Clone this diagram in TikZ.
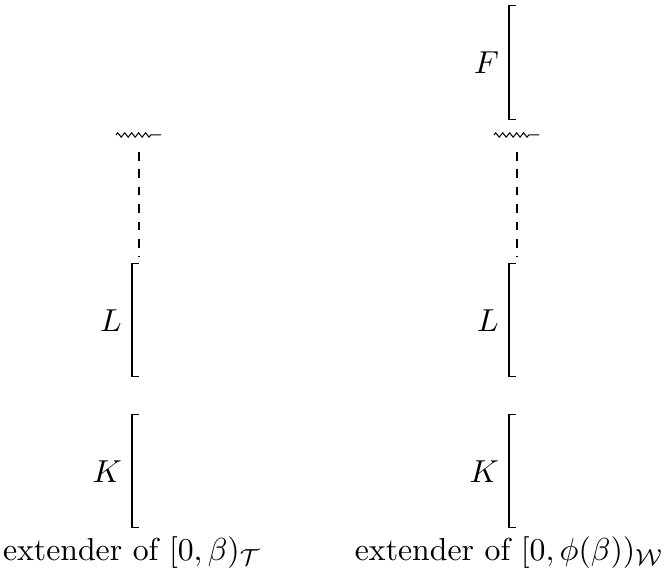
\documentclass[tikz,border=0pt]{standalone}
\usetikzlibrary{decorations.pathmorphing,calc}
\begin{document}
\begin{tikzpicture}[x=0.3448pt,y=-0.3448pt,
  every node/.style={font=\fontsize{10.95}{13.6}\selectfont},
  brk/.style={line width=0.35pt},
  squig/.style={line width=0.35pt,decorate,decoration={zigzag,segment length=2.4pt,amplitude=0.75pt,post length=3.1pt}},
  dsh/.style={line width=0.35pt,dashed},
  lbl/.style={left,inner sep=3.3pt},
  capt/.style={below,inner sep=2pt}]
\useasboundingbox (0,0) rectangle (668,576);
% left column
\coordinate (Lt) at (132,264);
\coordinate (Lb) at (132,377);
\coordinate (Kt) at (132,415);
\coordinate (Kb) at (132,528);
\coordinate (sqLa) at (116,135);
\coordinate (sqLb) at (161,135);
\coordinate (dLa) at (139,152);
\coordinate (dLb) at (139,257);
\draw[brk] ([xshift=2.4pt]Lt) -- (Lt) -- (Lb) -- ([xshift=2.4pt]Lb);
\draw[brk] ([xshift=2.4pt]Kt) -- (Kt) -- (Kb) -- ([xshift=2.4pt]Kb);
\node[lbl] (labL1) at ($(Lt)!0.5!(Lb)$) {$L$};
\node[lbl] (labK1) at ($(Kt)!0.5!(Kb)$) {$K$};
\draw[squig] (sqLa) -- (sqLb);
\draw[dsh] (dLa) -- (dLb);
\node[capt] (cap1) at ([yshift=-0.7pt]Kb) {extender of $[0,\beta)_{\mathcal{T}}$};
% right column
\coordinate (Ft) at (509,6);
\coordinate (Fb) at (509,120);
\coordinate (Rt) at (509,264);
\coordinate (Rb) at (509,377);
\coordinate (Qt) at (509,415);
\coordinate (Qb) at (509,528);
\coordinate (sqRa) at (494,135);
\coordinate (sqRb) at (539,135);
\coordinate (dRa) at (517,152);
\coordinate (dRb) at (517,257);
\draw[brk] ([xshift=2.4pt]Ft) -- (Ft) -- (Fb) -- ([xshift=2.4pt]Fb);
\draw[brk] ([xshift=2.4pt]Rt) -- (Rt) -- (Rb) -- ([xshift=2.4pt]Rb);
\draw[brk] ([xshift=2.4pt]Qt) -- (Qt) -- (Qb) -- ([xshift=2.4pt]Qb);
\node[lbl] (labF2) at ($(Ft)!0.5!(Fb)$) {$F$};
\node[lbl] (labL2) at ($(Rt)!0.5!(Rb)$) {$L$};
\node[lbl] (labK2) at ($(Qt)!0.5!(Qb)$) {$K$};
\draw[squig] (sqRa) -- (sqRb);
\draw[dsh] (dRa) -- (dRb);
\node[capt] (cap2) at ([yshift=-0.7pt]Qb) {extender of $[0,\phi(\beta))_{\mathcal{W}}$};
\end{tikzpicture}
\end{document}
